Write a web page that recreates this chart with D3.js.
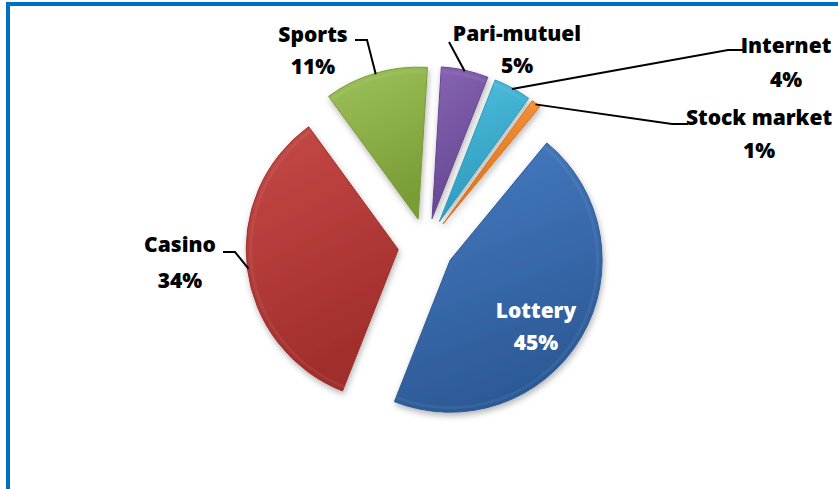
<!DOCTYPE html>
<html>
<head>
<meta charset="utf-8">
<script src="https://cdn.jsdelivr.net/npm/d3@7"></script>
<style>
  body { margin: 0; background: #fff; }
  text { font-family: "Open Sans", "DejaVu Sans", sans-serif; font-weight: 800; }
</style>
</head>
<body>
<div id="chart"></div>
<script>
// data, clockwise from 12 o'clock
var categories = ["Pari-mutuel", "Internet", "Stock market", "Lottery", "Casino", "Sports"];
var shares = [5, 4, 1, 45, 34, 11];
var pctLabels = ["5%", "4%", "1%", "45%", "34%", "11%"];

// colours (light top / dark bottom)
var lightCols = ["#8765b4", "#4fc0e0", "#f89c40", "#477cc4", "#c64a47", "#9ec25a"];
var darkCols  = ["#654690", "#2c98ba", "#dc6c16", "#2c5a96", "#a02d2b", "#7a9c36"];

// label placement: text centre, baselines, leader start + elbow
var labelLayout = {
    "Sports":       {x: 313, y1: 42, y2: 74, line: [[355, 40], [367, 40]]},
    "Pari-mutuel":  {x: 517, y1: 41, y2: 73, line: [[449, 42]]},
    "Internet":     {x: 786, y1: 53, y2: 87, line: [[743, 50], [728, 50]]},
    "Stock market": {x: 759, y1: 125, y2: 158, line: [[688, 124], [672, 124]]},
    "Casino":       {x: 180, y1: 252, y2: 288, line: [[223, 252], [235, 252]]},
    "Lottery":      {x: 536, y1: 318, y2: 350, inside: true}
};

var width = 838,
    height = 489,
    cx = 426, cy = 246,
    radius = 152,
    explode = 28,
    start = 3.5 * Math.PI / 180;

var svg = d3.select("#chart").append("svg")
    .attr("width", width)
    .attr("height", height);

// blue frame (only top and left visible)
svg.append("path")
    .attr("d", "M8," + height + "V4H" + width)
    .attr("fill", "none")
    .attr("stroke", "#0070c0")
    .attr("stroke-width", 4);

var defs = svg.append("defs");
var shadow = defs.append("filter").attr("id", "shadow")
    .attr("x", "-20%").attr("y", "-20%").attr("width", "140%").attr("height", "140%");
shadow.append("feDropShadow")
    .attr("dx", 1).attr("dy", 3).attr("stdDeviation", 3)
    .attr("flood-color", "#000").attr("flood-opacity", 0.3);

categories.forEach(function(c, i) {
    var g = defs.append("linearGradient").attr("id", "grad" + i)
        .attr("x1", 0).attr("y1", 0).attr("x2", 0.3).attr("y2", 1);
    g.append("stop").attr("offset", "0%").attr("stop-color", lightCols[i]);
    g.append("stop").attr("offset", "100%").attr("stop-color", darkCols[i]);
});

var data = categories.map(function(c, i) {
    return {name: c, value: shares[i], pct: pctLabels[i], idx: i};
});

var pie = d3.pie()
    .sort(null)
    .value(function(d) { return d.value; })
    .startAngle(start)
    .endAngle(start + 2 * Math.PI);

var arc = d3.arc()
    .innerRadius(0)
    .outerRadius(radius);

var arcs = pie(data);

// offset of each exploded slice
function sliceCentre(d) {
    var mid = (d.startAngle + d.endAngle) / 2;
    return [cx + explode * Math.sin(mid), cy - explode * Math.cos(mid)];
}

var slices = svg.selectAll("g.slice").data(arcs)
    .enter().append("g")
    .attr("class", "slice")
    .attr("transform", function(d) { return "translate(" + sliceCentre(d) + ")"; });

slices.append("path")
    .attr("d", arc)
    .attr("fill", function(d) { return "url(#grad" + d.data.idx + ")"; })
    .attr("stroke", function(d) { return darkCols[d.data.idx]; })
    .attr("stroke-width", 1)
    .attr("filter", "url(#shadow)");

// soft bevel highlight along the rim
slices.append("path")
    .attr("d", d3.arc().innerRadius(radius - 6).outerRadius(radius - 3))
    .attr("fill", "#fff")
    .attr("opacity", 0.06);

// leader lines
var line = d3.line();
arcs.forEach(function(d) {
    var lay = labelLayout[d.data.name];
    if (lay.inside) return;
    var c = sliceCentre(d);
    var mid = (d.startAngle + d.endAngle) / 2;
    var hit = [c[0] + (radius - 1) * Math.sin(mid), c[1] - (radius - 1) * Math.cos(mid)];
    svg.append("path")
        .attr("d", line(lay.line.concat([hit])))
        .attr("fill", "none")
        .attr("stroke", "#000")
        .attr("stroke-width", 2);
});

// labels
var labels = svg.selectAll("g.label").data(arcs)
    .enter().append("g")
    .attr("class", "label");

labels.append("text")
    .attr("x", function(d) { return labelLayout[d.data.name].x; })
    .attr("y", function(d) { return labelLayout[d.data.name].y1; })
    .attr("text-anchor", "middle")
    .style("font-size", "21px")
    .attr("fill", function(d) { return labelLayout[d.data.name].inside ? "#fff" : "#000"; })
    .text(function(d) { return d.data.name; });

labels.append("text")
    .attr("x", function(d) { return labelLayout[d.data.name].x; })
    .attr("y", function(d) { return labelLayout[d.data.name].y2; })
    .attr("text-anchor", "middle")
    .style("font-size", "21px")
    .attr("fill", function(d) { return labelLayout[d.data.name].inside ? "#fff" : "#000"; })
    .text(function(d) { return d.data.pct; });
</script>
</body>
</html>
